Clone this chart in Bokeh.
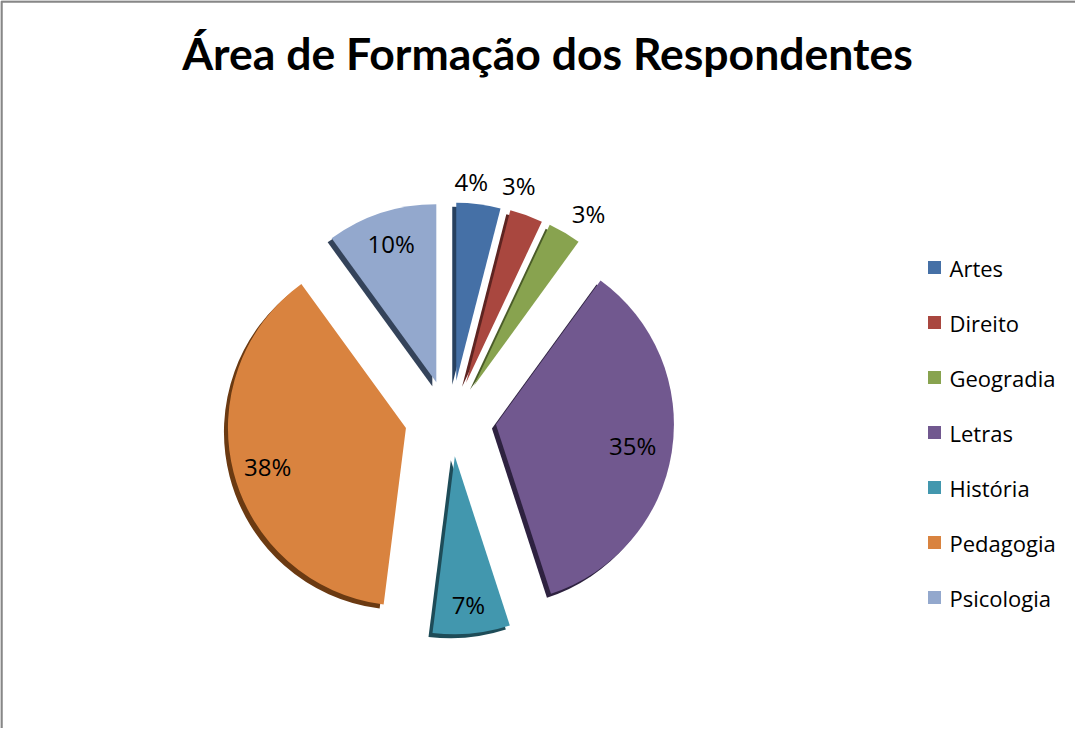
import math
from bokeh.plotting import figure
from bokeh.models import Range1d, ColumnDataSource
from bokeh.core.properties import value
from bokeh.embed import file_html
from bokeh.resources import INLINE

# ---- data ----
categories = ["Artes", "Direito", "Geogradia", "Letras", "História", "Pedagogia", "Psicologia"]
shares = [4, 3, 3, 35, 7, 38, 10]
pct_labels = ["4%", "3%", "3%", "35%", "7%", "38%", "10%"]
colors = ["#4570A6", "#A9473F", "#88A34F", "#71588F", "#4297AE", "#D9833F", "#93A8CD"]
side_colors = ["#27405F", "#5E2421", "#4A5C28", "#2E2240", "#1E4C58", "#6B3A12", "#34435A"]
title = "Área de Formação dos Respondentes"

# ---- layout (page pixels) ----
W, H = 1075, 728
def px(X):
    return X - 8
def py(Y):
    return H - (Y - 8)

CX, CY = 458, 426          # pie centre in page pixels
R = 178                    # radius
EXP_X, EXP_Y = 46, 38      # explode distances
LABEL_R = [238, 243, 247, 184, 187, 189, 185]
LABEL_DA = [-2.2, -3.5, 3.4, -0.7, -0.1, -0.3, -0.7]

total = float(sum(shares))
starts, ends, mids = [], [], []
acc = 0.0
for s in shares:
    a0 = acc / total * 360.0
    acc += s
    a1 = acc / total * 360.0
    starts.append(a0); ends.append(a1); mids.append((a0 + a1) / 2)

xs, ys, sa, ea, lx, ly = [], [], [], [], [], []
for i in range(len(shares)):
    m = math.radians(mids[i])
    xs.append(px(CX + EXP_X * math.sin(m)))
    ys.append(py(CY - EXP_Y * math.cos(m)))
    sa.append(math.pi / 2 - math.radians(ends[i]))
    ea.append(math.pi / 2 - math.radians(starts[i]))
    la = math.radians(mids[i] + LABEL_DA[i])
    lx.append(px(CX + LABEL_R[i] * math.sin(la)))
    ly.append(py(CY - LABEL_R[i] * math.cos(la)))

src = ColumnDataSource(dict(x=xs, y=ys, sa=sa, ea=ea, color=colors, side=side_colors,
                            sx=[x - 4 for x in xs], sy=[y - 4 for y in ys],
                            lx=lx, ly=ly, lab=pct_labels))

p = figure(width=W, height=H, x_range=Range1d(0, W), y_range=Range1d(0, H),
           output_backend="svg", toolbar_location=None, min_border=0)
p.axis.visible = False
p.grid.visible = False
p.outline_line_color = None
p.background_fill_color = "white"
p.border_fill_color = "white"

# border (left and top)
p.line([1, 1, W], [0, H - 1, H - 1], line_color="#878787", line_width=2.5)

# 3D side (shadow) then faces
p.wedge(x="sx", y="sy", radius=R, start_angle="sa", end_angle="ea", direction="anticlock",
        fill_color="side", line_color=None, source=src)
p.wedge(x="x", y="y", radius=R, start_angle="sa", end_angle="ea", direction="anticlock",
        fill_color="color", line_color=None, source=src)

p.text(x="lx", y="ly", text="lab", source=src, text_align="center", text_baseline="middle",
       text_font=value("Open Sans"), text_font_size="24px", text_color="#000000")

# title
p.text(x=[px(555)], y=[py(60)], text=[title], text_align="center", text_baseline="middle",
       text_font=value("Lato"), text_font_style="bold", text_font_size="44.5px", text_color="#000000")

# legend
leg_y = [py(275 + 55 * i) for i in range(len(categories))]
p.rect(x=[px(942)] * len(categories), y=leg_y, width=13, height=13,
       fill_color=colors, line_color=None)
p.text(x=[px(957)] * len(categories), y=leg_y, text=categories, text_align="left",
       text_baseline="middle", text_font=value("Open Sans"), text_font_size="22px",
       text_color="#000000")

open("out.html", "w").write(file_html(p, INLINE))
